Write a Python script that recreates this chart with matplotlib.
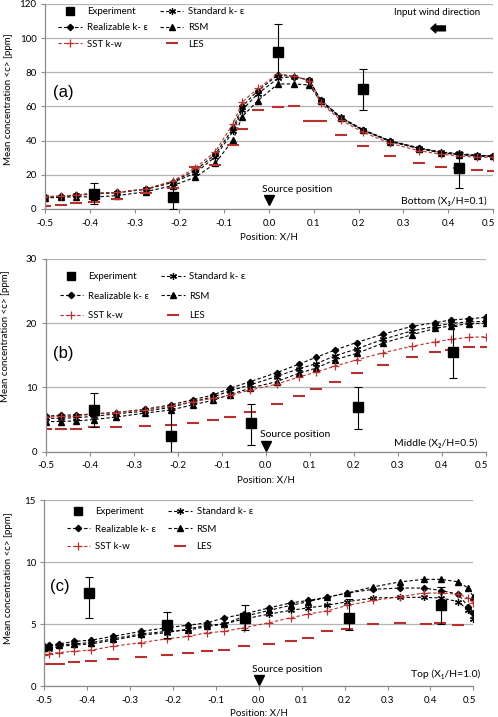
import numpy as np
import matplotlib
matplotlib.use("Agg")
import matplotlib.pyplot as plt
import matplotlib.transforms as mtransforms
from matplotlib.lines import Line2D

plt.rcParams['font.family'] = ['Lato', 'DejaVu Sans']
plt.rcParams['font.size'] = 7

RED = '#b8312f'

x_ticks = [-0.5, -0.4, -0.3, -0.2, -0.1, 0.0, 0.1, 0.2, 0.3, 0.4, 0.5]
x_ticklabels = ["-0.5", "-0.4", "-0.3", "-0.2", "-0.1", "0.0", "0.1", "0.2", "0.3", "0.4", "0.5"]

# ---------------- data (a) bottom ----------------
x_a = [-0.5, -0.465, -0.43, -0.39, -0.34, -0.275, -0.215, -0.165, -0.12, -0.08, -0.06, -0.025,
       0.02, 0.055, 0.09, 0.115, 0.16, 0.21, 0.27, 0.335, 0.385, 0.425, 0.465, 0.5]
std_a = [7.0, 7.3, 8.0, 8.8, 9.5, 11.5, 15.5, 21.0, 30.5, 45.5, 58.0, 67.5,
         76.5, 77.5, 75.5, 64.0, 53.8, 46.5, 40.0, 35.8, 33.3, 32.5, 31.5, 31.0]
real_a = [7.3, 7.5, 8.2, 9.2, 9.7, 11.7, 16.0, 22.5, 32.0, 47.2, 60.0, 69.3,
          78.4, 77.5, 75.5, 63.8, 53.5, 46.2, 39.8, 35.5, 33.0, 32.0, 31.2, 31.0]
rsm_a = [6.5, 6.8, 7.2, 7.0, 7.8, 10.1, 13.7, 18.5, 26.7, 40.6, 54.0, 63.4,
         73.2, 73.2, 72.6, 63.0, 53.0, 46.0, 39.5, 35.3, 32.8, 31.8, 31.0, 30.8]
sst_a = [7.2, 7.5, 8.2, 9.0, 9.7, 11.7, 16.3, 24.0, 33.5, 50.0, 62.5, 70.6,
         79.0, 77.9, 75.0, 62.0, 52.1, 44.9, 38.5, 34.1, 32.0, 31.0, 30.3, 30.3]
les_a = [1.9, 2.5, 3.3, 3.9, 5.9, 9.2, 12.5, 24.8, 25.6, 37.5, 46.6, 58.0,
         59.5, 60.5, 51.7, 51.7, 43.3, 36.9, 31.2, 27.1, 24.8, 23.8, 22.8, 22.4]
exp_x_a = [-0.39, -0.215, 0.02, 0.21, 0.425]
exp_y_a = [9.0, 7.0, 92.0, 70.0, 24.0]
exp_lo_a = [6.0, 7.0, 13.5, 12.0, 12.0]
exp_hi_a = [6.0, 7.0, 16.0, 12.0, 9.5]

# ---------------- data (b) middle ----------------
x_b = [-0.5, -0.465, -0.43, -0.39, -0.34, -0.275, -0.215, -0.165, -0.12, -0.08, -0.035,
       0.025, 0.075, 0.115, 0.157, 0.207, 0.267, 0.332, 0.386, 0.422, 0.462, 0.5]
real_b = [5.5, 5.7, 5.7, 5.9, 6.1, 6.6, 7.3, 8.1, 8.8, 9.9, 10.9,
          12.3, 13.6, 14.7, 15.8, 17.0, 18.3, 19.5, 20.1, 20.5, 20.7, 20.9]
std_b = [5.2, 5.2, 5.3, 5.5, 5.9, 6.3, 6.9, 7.8, 8.5, 9.5, 10.4,
         11.7, 12.9, 13.7, 14.9, 16.0, 17.5, 18.8, 19.5, 20.0, 20.2, 20.3]
rsm_b = [4.7, 4.7, 4.8, 5.0, 5.4, 6.0, 6.5, 7.3, 8.0, 8.9, 9.9,
         10.9, 12.2, 13.0, 14.3, 15.3, 16.9, 18.2, 19.2, 19.6, 19.9, 20.0]
sst_b = [5.4, 5.5, 5.5, 5.9, 6.1, 6.5, 7.1, 7.8, 8.3, 8.8, 9.6,
         10.5, 11.6, 12.4, 13.3, 14.3, 15.4, 16.4, 17.1, 17.5, 17.8, 17.9]
les_b = [3.5, 3.5, 3.6, 3.8, 3.8, 4.0, 4.2, 4.5, 4.9, 5.4, 6.2,
         7.4, 8.6, 9.7, 10.9, 12.2, 13.5, 14.8, 15.5, 15.8, 16.3, 16.3]
exp_x_b = [-0.39, -0.215, -0.033, 0.21, 0.425]
exp_y_b = [6.5, 2.5, 4.5, 7.0, 15.5]
exp_lo_b = [2.7, 4.0, 3.5, 3.5, 4.0]
exp_hi_b = [2.7, 4.0, 3.0, 3.0, 4.0]

# ---------------- data (c) top ----------------
x_c = [-0.5, -0.49, -0.465, -0.43, -0.39, -0.34, -0.275, -0.215, -0.165, -0.12, -0.08, -0.035,
       0.024, 0.074, 0.115, 0.158, 0.206, 0.267, 0.33, 0.385, 0.425, 0.465, 0.488, 0.5]
real_c = [3.2, 3.3, 3.4, 3.6, 3.7, 4.0, 4.4, 4.7, 4.9, 5.1, 5.5, 5.8,
          6.3, 6.7, 6.9, 7.15, 7.5, 7.8, 7.9, 7.9, 7.7, 7.4, 6.4, 5.9]
rsm_c = [3.1, 3.2, 3.3, 3.4, 3.5, 3.8, 4.2, 4.4, 4.5, 4.8, 5.0, 5.6,
         6.1, 6.5, 6.8, 7.15, 7.5, 8.0, 8.4, 8.6, 8.6, 8.4, 7.9, 7.2]
std_c = [3.0, 3.0, 3.2, 3.3, 3.4, 3.7, 4.1, 4.3, 4.6, 4.9, 5.0, 5.4,
         5.8, 6.1, 6.3, 6.5, 6.8, 7.1, 7.15, 7.15, 7.1, 6.8, 6.1, 5.4]
sst_c = [2.5, 2.6, 2.7, 2.8, 2.9, 3.2, 3.5, 3.8, 4.0, 4.3, 4.4, 4.7,
         5.1, 5.5, 5.8, 6.05, 6.5, 6.9, 7.2, 7.5, 7.5, 7.4, 7.1, 6.7]
les_x_c = [-0.5, -0.49, -0.465, -0.43, -0.39, -0.34, -0.275, -0.215, -0.165, -0.12, -0.08, -0.035,
           0.024, 0.074, 0.115, 0.158, 0.206, 0.267, 0.33, 0.39, 0.422, 0.465]
les_c = [1.75, 1.8, 1.8, 1.9, 2.0, 2.15, 2.3, 2.5, 2.7, 2.8, 2.9, 3.2,
         3.4, 3.65, 3.9, 4.4, 4.6, 5.0, 5.1, 5.0, 5.05, 4.9]
exp_x_c = [-0.395, -0.215, -0.033, 0.21, 0.425]
exp_y_c = [7.5, 4.9, 5.5, 5.5, 6.5]
exp_lo_c = [2.0, 1.0, 1.0, 1.0, 1.5]
exp_hi_c = [1.3, 1.1, 1.0, 1.5, 1.5]

panels = [
    dict(pos=[45/498, 1-209/717, 448/498, 205/717], ymax=120, ystep=20, tag="(a)", tagpos=(0.018, 0.57),
         x=x_a, real=real_a, std=std_a, rsm=rsm_a, sst=sst_a, les_x=x_a, les=les_a,
         ex=exp_x_a, ey=exp_y_a, elo=exp_lo_a, ehi=exp_hi_a,
         src_txt=(0.062, 11.4), src_mk=5.3, loc_txt="Bottom (X₃/H=0.1)", loc_pos=(0.987, 0.04),
         leg=(0.03, 0.985, 0.75), ylab=(-0.071, 0.537), xlab=-0.117),
    dict(pos=[45.5/498, 1-451.7/717, 440/498, 192.7/717], ymax=30, ystep=10, tag="(b)", tagpos=(0.017, 0.51),
         x=x_b, real=real_b, std=std_b, rsm=rsm_b, sst=sst_b, les_x=x_b, les=les_b,
         ex=exp_x_b, ey=exp_y_b, elo=exp_lo_b, ehi=exp_hi_b,
         src_txt=(0.067, 2.6), src_mk=0.9, loc_txt="Middle (X₂/H=0.5)", loc_pos=(0.982, 0.044),
         leg=(0.032, 0.93, 1.05), ylab=(-0.08, 0.6), xlab=-0.122),
    dict(pos=[44.3/498, 1-686/717, 429/498, 186/717], ymax=15, ystep=5, tag="(c)", tagpos=(0.013, 0.534),
         x=x_c, real=real_c, std=std_c, rsm=rsm_c, sst=sst_c, les_x=les_x_c, les=les_c,
         ex=exp_x_c, ey=exp_y_c, elo=exp_lo_c, ehi=exp_hi_c,
         src_txt=(0.066, 1.35), src_mk=0.5, loc_txt="Top (X₁/H=1.0)", loc_pos=(1.016, 0.065),
         leg=(0.052, 0.96, 0.85), ylab=(-0.073, 0.58), xlab=-0.122),
]

fig = plt.figure(figsize=(4.98, 7.17), dpi=100)

dash = (0, (3, 2))
for p in panels:
    ax = fig.add_axes(p["pos"])
    ax.set_xlim(-0.5, 0.5)
    ax.set_ylim(0, p["ymax"])
    ax.set_xticks(x_ticks)
    ax.set_xticklabels(x_ticklabels)
    ax.set_yticks(np.arange(0, p["ymax"] + 1, p["ystep"]))
    ax.yaxis.grid(True, color='#b3b3b3', lw=0.9)
    ax.set_axisbelow(True)
    for s in ['top', 'right']:
        ax.spines[s].set_visible(False)
    for s in ['left', 'bottom']:
        ax.spines[s].set_color('#8c8c8c')
        ax.spines[s].set_linewidth(0.9)
    ax.tick_params(length=3, width=0.8, color='#8c8c8c', labelsize=7, pad=3)
    ax.tick_params(axis='x', pad=4)
    # keep the last tick label inside the figure edge
    last = ax.get_xticklabels()[-1]
    last.set_transform(last.get_transform() + mtransforms.ScaledTranslation(-3/72, 0, fig.dpi_scale_trans))

    ax.plot(p["x"], p["std"], ls=dash, color='k', lw=0.8, marker=(6, 2, 0), ms=5, mew=0.9)
    ax.plot(p["x"], p["real"], ls=dash, color='k', lw=0.8, marker='D', ms=3.2)
    ax.plot(p["x"], p["rsm"], ls=dash, color='k', lw=0.8, marker='^', ms=4)
    ax.plot(p["x"], p["sst"], ls=dash, color=RED, lw=0.8, marker='+', ms=6, mew=0.9)
    ax.plot(p["les_x"], p["les"], ls='none', color=RED, marker='_', ms=8, mew=1.5)
    ax.errorbar(p["ex"], p["ey"], yerr=[p["elo"], p["ehi"]], fmt='s', color='k', ms=7,
                ecolor='k', elinewidth=0.8, capsize=3, capthick=0.8, zorder=5)

    ax.plot([0.0], [p["src_mk"]], marker='v', color='k', ms=7, ls='none', clip_on=False)
    ax.text(p["src_txt"][0], p["src_txt"][1], "Source position", ha='center', va='center', fontsize=7.5)
    ax.text(p["loc_pos"][0], p["loc_pos"][1], p["loc_txt"], ha='right', va='center', fontsize=7.5,
            transform=ax.transAxes)
    ax.text(p["tagpos"][0], p["tagpos"][1], p["tag"], ha='left', va='center', fontsize=12,
            family='Liberation Sans', transform=ax.transAxes)

    ax.set_ylabel("Mean concentration <c> [ppm]", fontsize=7)
    ax.yaxis.set_label_coords(*p["ylab"])
    ax.set_xlabel("Position: X/H", fontsize=7)
    ax.xaxis.set_label_coords(0.5, p["xlab"])

    handles = [
        Line2D([], [], ls='none', marker='s', color='k', ms=6),
        Line2D([], [], ls=dash, color='k', lw=0.8, marker='D', ms=3.2),
        Line2D([], [], ls=dash, color=RED, lw=0.8, marker='+', ms=6, mew=0.9),
        Line2D([], [], ls=dash, color='k', lw=0.8, marker=(6, 2, 0), ms=5, mew=0.9),
        Line2D([], [], ls=dash, color='k', lw=0.8, marker='^', ms=4),
        Line2D([], [], ls='none', color=RED, marker='_', ms=8, mew=1.5),
    ]
    labels = ["Experiment", "Realizable k- ε", "SST k-w", "Standard k- ε", "RSM", "LES"]
    lx, ly, lsp = p["leg"]
    ax.legend(handles, labels, ncol=2, loc='upper left', bbox_to_anchor=(lx, ly), frameon=False,
              fontsize=7, handlelength=2.4, handletextpad=0.5, columnspacing=1.3,
              labelspacing=lsp, borderpad=0, borderaxespad=0)

    if p["tag"] == "(a)":
        ax.text(0.875, 0.96, "Input wind direction", ha='center', va='center', fontsize=7,
                transform=ax.transAxes)
        ax.annotate('', xy=(0.855, 0.881), xytext=(0.9, 0.881), xycoords='axes fraction',
                    arrowprops=dict(arrowstyle='simple,head_length=0.5,head_width=0.9,tail_width=0.5',
                                    color='k'))

fig.savefig("out.png", dpi=100)
